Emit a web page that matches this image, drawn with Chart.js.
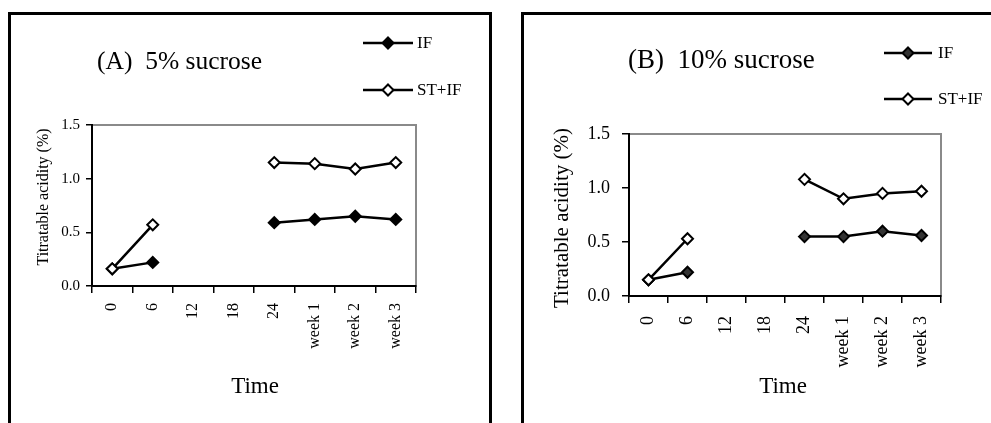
<!DOCTYPE html>
<html>
<head>
<meta charset="utf-8">
<script src="https://cdn.jsdelivr.net/npm/chart.js@4.4.1/dist/chart.umd.min.js"></script>
<style>
  html, body { margin: 0; padding: 0; background: #fff; width: 991px; height: 423px; overflow: hidden; }
  .frame { position: absolute; border: 3px solid #000; box-sizing: border-box; }
  .panel { position: absolute; top: 0; height: 423px; }
</style>
</head>
<body>
<div class="frame" style="left:8px;top:12px;width:484px;height:470px"></div>
<div class="frame" style="left:521px;top:12px;width:520px;height:470px"></div>
<div class="panel" style="left:0;width:495px"><canvas id="chartA" width="495" height="423"></canvas></div>
<div class="panel" style="left:495px;width:496px"><canvas id="chartB" width="496" height="423"></canvas></div>
<script>
// Sampling times (hours, then weeks)
const timeLabels = ['0', '6', '12', '18', '24', 'week 1', 'week 2', 'week 3'];

// Titratable acidity (%) — 5% sucrose
const ifA   = [0.16, 0.22, null, null, 0.59, 0.62, 0.65, 0.62];
const stifA = [0.16, 0.57, null, null, 1.15, 1.14, 1.09, 1.15];

// Titratable acidity (%) — 10% sucrose
const ifB   = [0.15, 0.22, null, null, 0.55, 0.55, 0.60, 0.56];
const stifB = [0.15, 0.53, null, null, 1.08, 0.90, 0.95, 0.97];

const yTickValues = [0, 0.5, 1.0, 1.5];

const SERIF = "'Liberation Serif', 'Times New Roman', serif";

// Grey frame round the plot area, headings, axis titles and the line+marker legend
const panelDecor = {
  id: 'panelDecor',
  beforeDraw(chart) {
    const { ctx, chartArea: a } = chart;
    ctx.save();
    ctx.strokeStyle = '#8a8a8a';
    ctx.lineWidth = 2;
    ctx.strokeRect(a.left, a.top, a.right - a.left, a.bottom - a.top);
    ctx.restore();
  },
  afterDraw(chart, args, o) {
    const ctx = chart.ctx;
    ctx.save();
    ctx.fillStyle = '#000';
    ctx.textBaseline = 'middle';

    ctx.textAlign = 'left';
    ctx.font = o.headingSize + 'px ' + SERIF;
    ctx.fillText(o.heading, o.headingX, o.headingY);

    ctx.textAlign = 'center';
    ctx.font = o.xTitleSize + 'px ' + SERIF;
    ctx.fillText(o.xTitle, o.xTitleX, o.xTitleY);

    ctx.save();
    ctx.translate(o.yTitleX, o.yTitleY);
    ctx.rotate(-Math.PI / 2);
    ctx.font = o.yTitleSize + 'px ' + SERIF;
    ctx.fillText(o.yTitle, 0, 0);
    ctx.restore();

    ctx.textAlign = 'left';
    ctx.font = o.legendSize + 'px ' + SERIF;
    chart.data.datasets.forEach((ds, i) => {
      const y = o.legendY + i * o.legendGap;
      const cx = (o.legendX1 + o.legendX2) / 2;
      const r = ds.pointRadius;
      ctx.strokeStyle = ds.borderColor;
      ctx.lineWidth = ds.borderWidth;
      ctx.beginPath();
      ctx.moveTo(o.legendX1, y);
      ctx.lineTo(o.legendX2, y);
      ctx.stroke();
      ctx.fillStyle = ds.pointBackgroundColor;
      ctx.strokeStyle = ds.pointBorderColor;
      ctx.lineWidth = ds.pointBorderWidth;
      ctx.beginPath();
      ctx.moveTo(cx, y - r); ctx.lineTo(cx + r, y); ctx.lineTo(cx, y + r); ctx.lineTo(cx - r, y); ctx.closePath();
      ctx.fill(); ctx.stroke();
      ctx.fillStyle = '#000';
      ctx.fillText(ds.label, o.legendTextX, y + 1);
    });
    ctx.restore();
  }
};

function series(label, data, fill) {
  return {
    label: label,
    data: data,
    borderColor: '#000',
    borderWidth: 2.5,
    pointStyle: 'rectRot',
    pointRadius: 5.5,
    pointHoverRadius: 5.5,
    pointBorderWidth: 2,
    pointBorderColor: '#000',
    pointBackgroundColor: fill,
    spanGaps: false,
    tension: 0,
    order: label === 'IF' ? 1 : 0
  };
}

function makeChart(id, ifData, stifData, s) {
  return new Chart(document.getElementById(id), {
    type: 'line',
    data: {
      labels: timeLabels,
      datasets: [series('IF', ifData, s.ifFill), series('ST+IF', stifData, '#fff')]
    },
    options: {
      responsive: false,
      animation: false,
      events: [],
      layout: { padding: { left: 0, top: s.top, right: s.right, bottom: 0 } },
      plugins: {
        legend: { display: false },
        tooltip: { enabled: false },
        panelDecor: s.decor
      },
      scales: {
        x: {
          type: 'category',
          offset: true,
          grid: { display: true, offset: true, drawOnChartArea: false, drawTicks: true, tickLength: 7, color: '#000', lineWidth: 1.5 },
          border: { display: true, color: '#000', width: 2 },
          ticks: {
            autoSkip: false, minRotation: 90, maxRotation: 90, padding: s.xPad,
            color: '#000', font: { family: SERIF, size: s.xTickSize }
          },
          afterFit(scale) { scale.height = s.xHeight; }
        },
        y: {
          min: 0, max: 1.5,
          grid: { display: true, drawOnChartArea: false, drawTicks: true, tickLength: s.yTickLen, color: '#000', lineWidth: 1.5 },
          border: { display: true, color: '#000', width: 2 },
          ticks: {
            padding: s.yPad, color: '#000', font: { family: SERIF, size: s.yTickSize },
            callback: v => Number(v).toFixed(1)
          },
          afterBuildTicks(scale) { scale.ticks = yTickValues.map(v => ({ value: v })); },
          afterFit(scale) { scale.width = s.yWidth; }
        }
      }
    },
    plugins: [panelDecor]
  });
}

makeChart('chartA', ifA, stifA, {
  ifFill: '#000', top: 125, right: 79, xHeight: 137, yWidth: 92,
  xPad: 10, xTickSize: 16, yPad: 6, yTickSize: 15, yTickLen: 6,
  decor: {
    heading: '(A)  5% sucrose', headingSize: 25.5, headingX: 97, headingY: 62,
    xTitle: 'Time', xTitleSize: 23, xTitleX: 255, xTitleY: 387,
    yTitle: 'Titratable acidity (%)', yTitleSize: 16, yTitleX: 44, yTitleY: 197,
    legendSize: 17, legendX1: 363, legendX2: 413, legendTextX: 417, legendY: 43, legendGap: 47
  }
});

makeChart('chartB', ifB, stifB, {
  ifFill: '#333', top: 134, right: 50, xHeight: 127, yWidth: 134,
  xPad: 13, xTickSize: 18, yPad: 12, yTickSize: 18, yTickLen: 7,
  decor: {
    heading: '(B)  10% sucrose', headingSize: 27, headingX: 133, headingY: 61,
    xTitle: 'Time', xTitleSize: 23, xTitleX: 288, xTitleY: 387,
    yTitle: 'Titratable acidity (%)', yTitleSize: 21, yTitleX: 67, yTitleY: 218,
    legendSize: 17, legendX1: 389, legendX2: 437, legendTextX: 443, legendY: 53, legendGap: 46
  }
});
</script>
</body>
</html>
